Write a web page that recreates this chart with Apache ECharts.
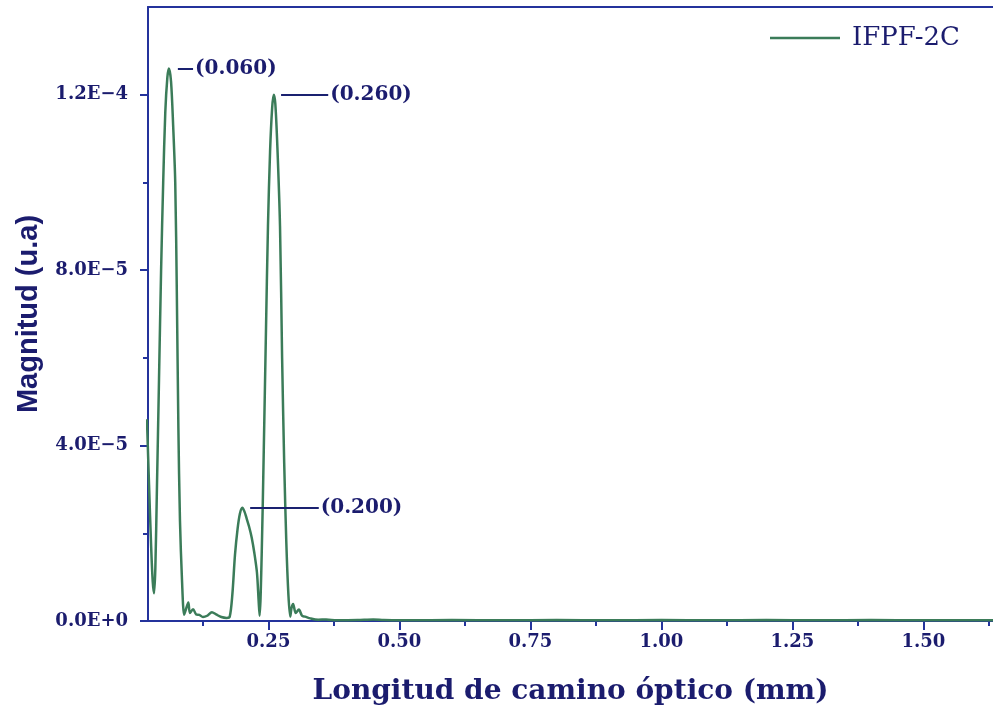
<!DOCTYPE html>
<html>
<head>
<meta charset="utf-8">
<title>IFPF-2C</title>
<script src="https://cdn.jsdelivr.net/npm/echarts@6/dist/echarts.min.js"></script>
<style>
  html, body { margin: 0; padding: 0; background: #ffffff; }
  #chart { width: 993px; height: 712px; }
</style>
</head>
<body>
<div id="chart"></div>
<script>
// Optical path length (mm) and spectral magnitude (a.u.) of the IFPF-2C trace
const pathLength = [
  0.018, 0.022, 0.026, 0.029, 0.0315, 0.034, 0.037, 0.041, 0.045, 0.049,
  0.053, 0.057, 0.060, 0.064, 0.068, 0.072, 0.075, 0.078, 0.081, 0.085,
  0.089, 0.092, 0.097, 0.100, 0.106, 0.112, 0.118, 0.125, 0.133, 0.142,
  0.150, 0.160, 0.170, 0.176, 0.181, 0.186, 0.191, 0.1955, 0.200, 0.204,
  0.208, 0.213, 0.218, 0.223, 0.228, 0.231, 0.233, 0.237, 0.241, 0.245,
  0.249, 0.253, 0.257, 0.260, 0.263, 0.267, 0.272, 0.276, 0.280, 0.284,
  0.288, 0.2915, 0.294, 0.297, 0.302, 0.308, 0.314, 0.320, 0.330, 0.345,
  0.360, 0.380, 0.420, 0.450, 0.470, 0.520, 0.600, 0.700, 0.800, 0.900,
  1.000, 1.100, 1.200, 1.300, 1.400, 1.500, 1.640
];
const magnitude = [
  4.6e-5, 3.1e-5, 1.7e-5, 9.0e-6, 6.3e-6, 1.2e-5, 3.0e-5, 5.5e-5, 8.0e-5, 1.0e-4,
  1.16e-4, 1.24e-4, 1.26e-4, 1.23e-4, 1.13e-4, 1.0e-4, 7.5e-5, 4.4e-5, 2.3e-5, 9.0e-6,
  1.4e-6, 2.5e-6, 4.2e-6, 1.8e-6, 2.7e-6, 1.5e-6, 1.4e-6, 0.9e-6, 1.2e-6, 2.0e-6,
  1.5e-6, 0.9e-6, 0.7e-6, 1.0e-6, 6.0e-6, 1.5e-5, 2.1e-5, 2.45e-5, 2.58e-5, 2.5e-5,
  2.35e-5, 2.15e-5, 1.9e-5, 1.55e-5, 1.1e-5, 5.0e-6, 1.2e-6, 1.5e-5, 3.9e-5, 6.5e-5,
  9.0e-5, 1.07e-4, 1.17e-4, 1.20e-4, 1.18e-4, 1.08e-4, 9.0e-5, 6.0e-5, 3.6e-5, 1.8e-5,
  6.0e-6, 1.0e-6, 3.0e-6, 3.9e-6, 1.8e-6, 2.6e-6, 1.2e-6, 1.0e-6, 0.6e-6, 0.3e-6,
  0.35e-6, 0.15e-6, 0.2e-6, 0.35e-6, 0.25e-6, 0.15e-6, 0.2e-6, 0.15e-6, 0.2e-6, 0.15e-6,
  0.2e-6, 0.15e-6, 0.2e-6, 0.15e-6, 0.2e-6, 0.15e-6, 0.15e-6
];

// Axis ticks and labels
const xMajorTicks = [0.25, 0.50, 0.75, 1.00, 1.25, 1.50];
const xMinorTicks = [0.125, 0.375, 0.625, 0.875, 1.125, 1.375, 1.625];
const yMajorTicks = [0, 4e-5, 8e-5, 1.2e-4];
const yMinorTicks = [2e-5, 6e-5, 1e-4];
const yTickLabels = ['0.0E+0', '4.0E\u22125', '8.0E\u22125', '1.2E\u22124'];

// Annotated peaks
const peakPositions = [0.060, 0.260, 0.200];
const seriesName = 'IFPF-2C';

const AXIS_BLUE = '#24339c';
const TEXT_NAVY = '#1b1c6e';
const LINE_GREEN = '#3b7c59';
const SERIF = '"DejaVu Serif", serif';
const X_MIN = 0.02, X_MAX = 1.633;
const Y_MIN = 0, Y_MAX = 1.4e-4;

const points = pathLength.map((x, i) => [x, magnitude[i]]);
const valueAt = x => magnitude[pathLength.findIndex(p => Math.abs(p - x) < 1e-9)];

// Leader line spans (start, end offsets along x) for each peak label
const leaderSpans = [[0.017, 0.046], [0.014, 0.104], [0.015, 0.146]];
const peakLeaders = peakPositions.map((x, i) => {
  const y = valueAt(x);
  return [
    { coord: [x + leaderSpans[i][0], y] },
    { coord: [x + leaderSpans[i][1], y], label: { formatter: '(' + x.toFixed(3) + ')' } }
  ];
});

const chart = echarts.init(document.getElementById('chart'), null, { renderer: 'canvas' });

const hiddenAxisParts = {
  axisLine: { show: false },
  axisLabel: { show: false },
  splitLine: { show: false }
};

chart.setOption({
  animation: false,
  backgroundColor: '#ffffff',
  grid: { left: 148, top: 7, right: 0, bottom: 91 },
  legend: {
    data: [seriesName],
    left: 770, top: 25, padding: 0,
    icon: 'rect', itemWidth: 70, itemHeight: 2.5,
    textStyle: { fontFamily: SERIF, fontSize: 26, color: TEXT_NAVY, padding: [0, 0, 0, 7] }
  },
  xAxis: [{
    type: 'value', min: X_MIN, max: X_MAX,
    name: 'Longitud de camino óptico (mm)',
    nameLocation: 'middle', nameGap: 57,
    nameTextStyle: { fontFamily: SERIF, fontWeight: 'bold', fontSize: 28, color: TEXT_NAVY },
    axisLine: { show: true, onZero: false, lineStyle: { color: AXIS_BLUE, width: 2 } },
    axisTick: { show: true, length: 9, customValues: xMajorTicks, lineStyle: { color: AXIS_BLUE, width: 2 } },
    axisLabel: {
      customValues: xMajorTicks, margin: 12,
      fontFamily: SERIF, fontWeight: 'bold', fontSize: 18, color: TEXT_NAVY,
      formatter: v => v.toFixed(2)
    },
    splitLine: { show: false }
  }, {
    type: 'value', min: X_MIN, max: X_MAX, position: 'bottom',
    ...hiddenAxisParts,
    axisTick: { show: true, length: 5, customValues: xMinorTicks, lineStyle: { color: AXIS_BLUE, width: 2 } }
  }, {
    // top frame line
    type: 'value', min: X_MIN, max: X_MAX, position: 'top',
    axisLine: { show: true, onZero: false, lineStyle: { color: AXIS_BLUE, width: 2 } },
    axisTick: { show: false }, axisLabel: { show: false }, splitLine: { show: false }
  }],
  yAxis: [{
    type: 'value', min: Y_MIN, max: Y_MAX,
    name: 'Magnitud (u.a)',
    nameLocation: 'middle', nameGap: 105,
    nameTextStyle: { fontFamily: '"Liberation Sans", sans-serif', fontWeight: 'bold', fontSize: 29, color: TEXT_NAVY },
    axisLine: { show: true, onZero: false, lineStyle: { color: AXIS_BLUE, width: 2 } },
    axisTick: { show: true, length: 8, customValues: yMajorTicks, lineStyle: { color: AXIS_BLUE, width: 2 } },
    axisLabel: {
      customValues: yMajorTicks, margin: 20,
      fontFamily: SERIF, fontWeight: 'bold', fontSize: 18, color: TEXT_NAVY,
      formatter: v => yTickLabels[Math.round(v / 4e-5)]
    },
    splitLine: { show: false }
  }, {
    type: 'value', min: Y_MIN, max: Y_MAX, position: 'left',
    ...hiddenAxisParts,
    axisTick: { show: true, length: 5, customValues: yMinorTicks, lineStyle: { color: AXIS_BLUE, width: 2 } }
  }],
  series: [{
    name: seriesName,
    type: 'line',
    data: points,
    xAxisIndex: 0, yAxisIndex: 0,
    showSymbol: false, symbol: 'none',
    smooth: 0.3,
    clip: true,
    color: LINE_GREEN,
    lineStyle: { color: LINE_GREEN, width: 2.5 },
    markLine: {
      silent: true,
      symbol: 'none',
      animation: false,
      lineStyle: { color: '#1a2170', width: 2, type: 'solid' },
      label: {
        show: true, position: 'end', distance: 2,
        fontFamily: SERIF, fontWeight: 'bold', fontSize: 20, color: TEXT_NAVY
      },
      emphasis: { disabled: true },
      data: peakLeaders
    }
  }]
});
</script>
</body>
</html>
